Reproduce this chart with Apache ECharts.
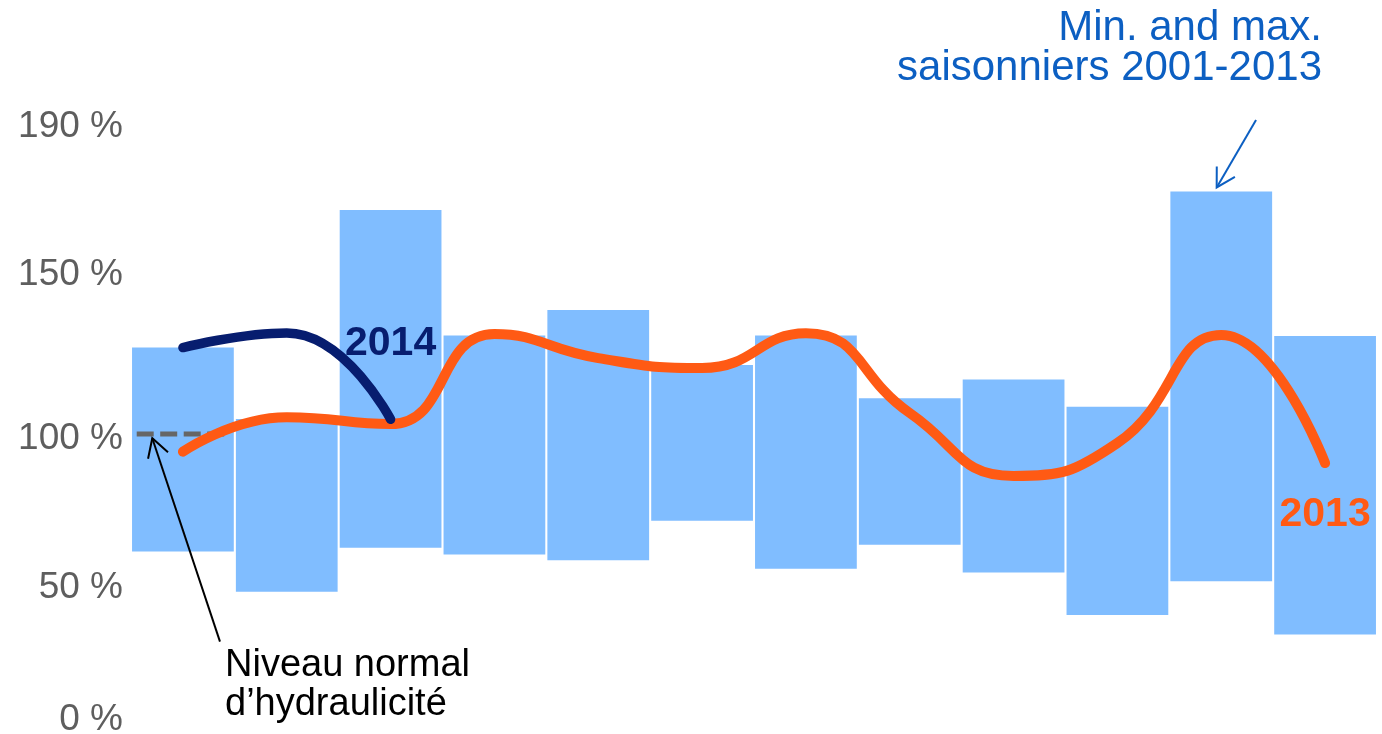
<!DOCTYPE html>
<html>
<head>
<meta charset="utf-8">
<title>Hydraulicité</title>
<script src="https://cdn.jsdelivr.net/npm/echarts@6/dist/echarts.min.js"></script>
<style>
  html, body { margin: 0; padding: 0; background: #fff; }
  #chart { width: 1382px; height: 734px; }
</style>
</head>
<body>
<div id="chart"></div>
<script>
// months (the picture shows no category labels)
const months = ['janv.', 'févr.', 'mars', 'avr.', 'mai', 'juin', 'juil.', 'août', 'sept.', 'oct.', 'nov.', 'déc.'];

// seasonal min / max 2001-2013, % of normal
const seasonMin = [60.8, 47.4, 62.1, 59.8, 57.9, 71.1, 55.1, 63.1, 53.8, 39.7, 50.9, 33.2];
const seasonMax = [128.8, 105.0, 174.7, 132.8, 141.3, 123.0, 132.8, 111.9, 118.2, 109.1, 180.8, 132.7];

const y2013 = [94.1, 105.6, 103.3, 133.3, 125.3, 122.0, 133.6, 107.0, 86.0, 97.0, 133.0, 90.3];
const y2014 = [128.8, 133.7, 104.9];

const normalLevel = 100;
const normalSpan = [0.055, 0.915];   // in month units, first month only
const yTickLabels = [0, 50, 100, 150, 190];

// annotation arrows, in data units (month index, %)
const arrowNormal = { from: [0.857, 30.8], to: [0.205, 98.6] };
const arrowRange = { from: [10.835, 204.7], to: [10.456, 182.2] };

// colours / styles
const FONT = 'Arial, "Liberation Sans", sans-serif';
const BAR = '#80bdff';
const ORANGE = '#ff5a14';
const NAVY = '#071d6f';
const BLUE_TXT = '#0c5fc2';
// the original tick labels are hand-placed, nudge them (px up)
const labelNudge = { 0: 14, 50: -4, 100: -5, 150: 9, 190: 37 };

const rich = {};
yTickLabels.forEach(v => {
  const s = labelNudge[v] || 0;
  rich['t' + v] = {
    fontSize: 37, fontFamily: FONT, color: '#5e5e5e',
    padding: s >= 0 ? [0, 0, 2 * s, 0] : [-2 * s, 0, 0, 0]
  };
});

const chart = echarts.init(document.getElementById('chart'));

const option = {
  animation: false,
  backgroundColor: '#fff',
  grid: { left: 131, right: 5, top: 134, bottom: 0, containLabel: false, outerBoundsMode: 'none' },
  xAxis: [
    { type: 'category', data: months, show: false },
    { type: 'value', min: 0, max: 12, show: false }
  ],
  yAxis: {
    type: 'value', min: 0, max: 200, interval: 10,
    splitLine: { show: false }, axisLine: { show: false }, axisTick: { show: false },
    axisLabel: {
      margin: 8,
      formatter: v => yTickLabels.includes(v) ? `{t${v}|${v} %}` : '',
      rich
    }
  },
  series: [
    {
      name: 'base', type: 'bar', stack: 'range', silent: true,
      barCategoryGap: '2%',
      itemStyle: { color: 'transparent' },
      data: seasonMin
    },
    {
      name: 'Min. / max.', type: 'bar', stack: 'range',
      barCategoryGap: '2%',
      itemStyle: { color: BAR },
      data: seasonMax.map((v, i) => +(v - seasonMin[i]).toFixed(1))
    },
    {
      name: 'normal', type: 'line', xAxisIndex: 1, z: 3,
      symbol: 'none',
      lineStyle: { color: '#666', width: 5, type: [17, 6.5], cap: 'butt' },
      data: normalSpan.map(x => [x, normalLevel])
    },
    {
      name: '2013', type: 'line', z: 4, smooth: 0.5,
      symbol: 'none',
      lineStyle: { color: ORANGE, width: 10, cap: 'round', join: 'round' },
      data: y2013,
      markPoint: {
        symbol: 'circle', symbolSize: 1, itemStyle: { color: 'transparent' },
        label: {
          show: true, formatter: '2013', position: 'inside', offset: [0, 52],
          color: ORANGE, fontSize: 41, fontWeight: 'bold', fontFamily: FONT
        },
        data: [{ coord: [months[11], y2013[11]] }]
      }
    },
    {
      name: '2014', type: 'line', z: 5, smooth: 0.5,
      symbol: 'none',
      lineStyle: { color: NAVY, width: 9.5, cap: 'round', join: 'round' },
      data: y2014,
      markPoint: {
        symbol: 'circle', symbolSize: 1, itemStyle: { color: 'transparent' },
        label: {
          show: true, formatter: '2014', position: 'inside', offset: [0, -76],
          color: NAVY, fontSize: 41, fontWeight: 'bold', fontFamily: FONT
        },
        data: [{ coord: [months[2], y2014[2]] }]
      }
    }
  ]
};

chart.setOption(option);

function arrow(a, color) {
  const finder = { xAxisIndex: 1, yAxisIndex: 0 };
  const p0 = chart.convertToPixel(finder, a.from);
  const p1 = chart.convertToPixel(finder, a.to);
  const ang = Math.atan2(p0[1] - p1[1], p0[0] - p1[0]);
  const len = 21, spread = Math.PI / 6;
  const w1 = [p1[0] + len * Math.cos(ang + spread), p1[1] + len * Math.sin(ang + spread)];
  const w2 = [p1[0] + len * Math.cos(ang - spread), p1[1] + len * Math.sin(ang - spread)];
  return [
    { type: 'line', z: 100, shape: { x1: p0[0], y1: p0[1], x2: p1[0], y2: p1[1] },
      style: { stroke: color, lineWidth: 2 } },
    { type: 'polyline', z: 100, shape: { points: [w1, p1, w2] },
      style: { stroke: color, lineWidth: 2, fill: null } }
  ];
}

chart.setOption({
  graphic: [
    ...arrow(arrowNormal, '#000'),
    ...arrow(arrowRange, BLUE_TXT),
    {
      type: 'text', z: 100, x: 225, y: 646,
      style: {
        text: 'Niveau normal\nd’hydraulicité', fill: '#000',
        font: `38px ${FONT}`, lineHeight: 39
      }
    },
    {
      type: 'text', z: 100, x: 1322, y: 8,
      style: {
        text: 'Min. and max.\nsaisonniers 2001-2013', fill: BLUE_TXT,
        font: `42px ${FONT}`, lineHeight: 40, align: 'right', verticalAlign: 'top'
      }
    }
  ]
});
</script>
</body>
</html>
